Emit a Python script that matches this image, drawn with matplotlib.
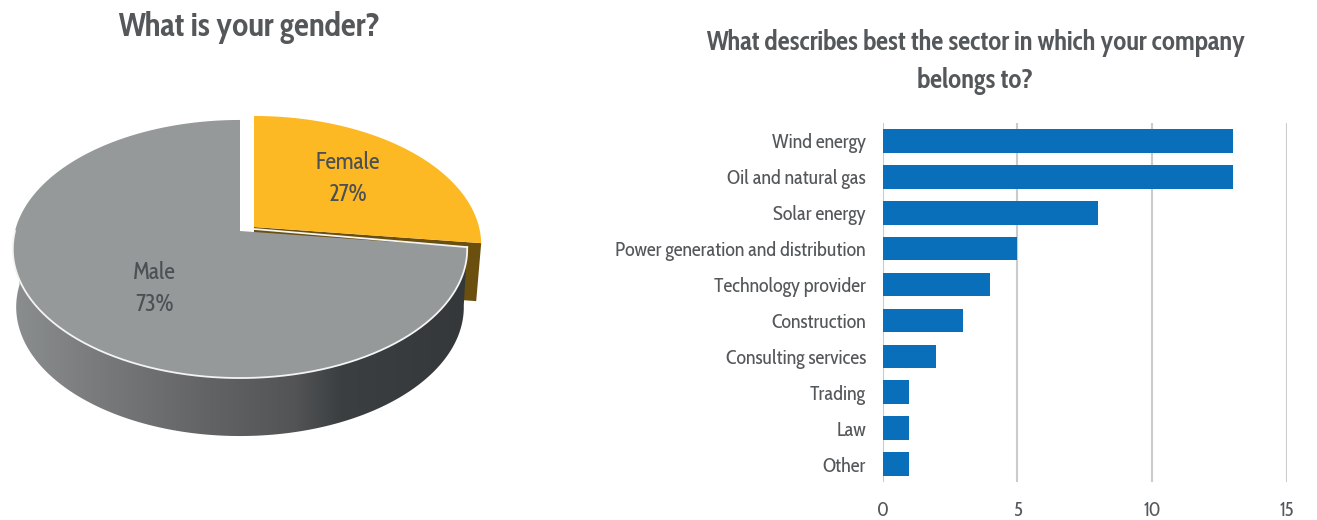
import numpy as np
import matplotlib
matplotlib.use("Agg")
import matplotlib.pyplot as plt
from matplotlib.colors import LinearSegmentedColormap
from matplotlib.patches import Polygon

W, H = 1317, 520

gender_labels = ["Female", "Male"]
gender_shares = [27, 73]
sectors = ["Wind energy", "Oil and natural gas", "Solar energy",
           "Power generation and distribution", "Technology provider",
           "Construction", "Consulting services", "Trading", "Law", "Other"]
sector_counts = [13, 13, 8, 5, 4, 3, 2, 1, 1, 1]
count_ticks = [0, 5, 10, 15]

TEXT = "#54585b"
NARROW = ["Cabin Condensed", "Lato", "DejaVu Sans"]

fig = plt.figure(figsize=(W / 100, H / 100), dpi=100, facecolor="white")

# Canvas in pixel units for the hand-projected 3D pie
pie_ax = fig.add_axes([0, 0, 1, 1])
pie_ax.set_xlim(0, W)
pie_ax.set_ylim(H, 0)
pie_ax.axis("off")


def project(theta, apex=(240.0, 231.0), drop=0.0, shrink=1.0):
    """Perspective view of a unit disc; theta in radians, counter-clockwise from +x."""
    X, Y = np.cos(theta), np.sin(theta)
    k, p, A, eye = 0.1395, -94.3, 225.0, 231.0
    den = 1 + k * Y
    return apex[0] + shrink * A * X / den, apex[1] + (p * Y + eye) / den - eye + drop


def arc(start, stop, n=240, **kw):
    t = np.radians(np.linspace(start, stop, n))
    x, y = project(t, **kw)
    return np.column_stack([x, y])


female_share = gender_shares[0]
start_deg = 90.0
split_deg = start_deg - 360.0 * female_share / sum(gender_shares)
male_apex = (240.0, 231.0)
female_apex = (254.0, 227.0)
DEPTH = 58.0

# Cut face of the pulled-out slice
f_end = project(np.radians(split_deg), apex=female_apex)
brown = [female_apex, f_end, (f_end[0] - 5, f_end[1] + DEPTH), (female_apex[0], female_apex[1] + DEPTH)]
pie_ax.add_patch(Polygon(brown, closed=True, fc="#6b4f0e", ec="none", zorder=1))

# Curved wall of the large slice, shaded from left to right
upper = arc(split_deg, -182)
lower = arc(-182, split_deg, drop=DEPTH, shrink=0.985)
wall = Polygon(np.vstack([upper, lower]), closed=True, fc="none", ec="none", zorder=2)
pie_ax.add_patch(wall)
wall_cmap = LinearSegmentedColormap.from_list(
    "wall", [(0.0, "#8b8e8e"), (0.2, "#77797a"), (0.42, "#626465"),
             (0.62, "#525456"), (0.72, "#3c3f41"), (1.0, "#35383a")])
shade = pie_ax.imshow(np.linspace(0, 1, 256)[None, :], cmap=wall_cmap, aspect="auto",
                      extent=(13, 468, 450, 240), zorder=2)
shade.set_clip_path(wall)
pie_ax.set_xlim(0, W)
pie_ax.set_ylim(H, 0)

# Top faces
male_outline = np.vstack([[male_apex], arc(split_deg, -270, apex=male_apex)])
pie_ax.add_patch(Polygon(male_outline, closed=True, fc="#96999a", ec="none", zorder=3))
rim = arc(split_deg, -180, apex=male_apex)
pie_ax.plot(rim[:, 0], rim[:, 1], color="#f4f4f4", lw=1.3, zorder=4)
pie_ax.plot([male_apex[0] + 14, rim[0, 0]], [male_apex[1] - 2, rim[0, 1]], color="#f4f4f4", lw=1.3, zorder=4)

female_outline = np.vstack([[female_apex], arc(split_deg, start_deg, apex=female_apex)])
pie_ax.add_patch(Polygon(female_outline, closed=True, fc="#fdb924", ec="none", zorder=3))

# Slice labels
for name, share, (lx, ly) in zip(gender_labels, gender_shares, [(348, 179), (154, 289)]):
    pie_ax.text(lx, ly, f"{name}\n{share}%", ha="center", va="center", fontsize=17,
                color="#4c5054", family=NARROW, linespacing=1.45, zorder=5)

# Panel titles
pie_ax.text(249, 28, "What is your gender?", ha="center", va="center", fontsize=23.8,
            fontweight="bold", color=TEXT, family=NARROW, zorder=5)
pie_ax.text(975, 62, "What describes best the sector in which your company\nbelongs to?",
            ha="center", va="center", fontsize=19.2, fontweight="bold", color=TEXT,
            family=NARROW, linespacing=1.5, zorder=5)

# Horizontal bars
ax = fig.add_axes([882.5 / W, 1 - 482 / H, (1287 - 882.5) / W, (482 - 123) / H])
ax.barh(sectors, sector_counts, height=0.66, color="#0a6fba", zorder=3)
ax.set_xlim(0, count_ticks[-1])
ax.set_ylim(len(sectors) - 0.5, -0.5)
ax.set_xticks(count_ticks)
ax.grid(axis="x", color="#c9cbcc", lw=1.5, zorder=0)
ax.set_axisbelow(True)
for s in ax.spines.values():
    s.set_visible(False)
ax.tick_params(axis="both", length=0, labelcolor=TEXT)
ax.tick_params(axis="y", pad=12, labelsize=14.4)
ax.tick_params(axis="x", pad=14, labelsize=14)
for lab in ax.get_yticklabels() + ax.get_xticklabels():
    lab.set_family(NARROW)

fig.savefig("out.png", dpi=100, facecolor="white")
